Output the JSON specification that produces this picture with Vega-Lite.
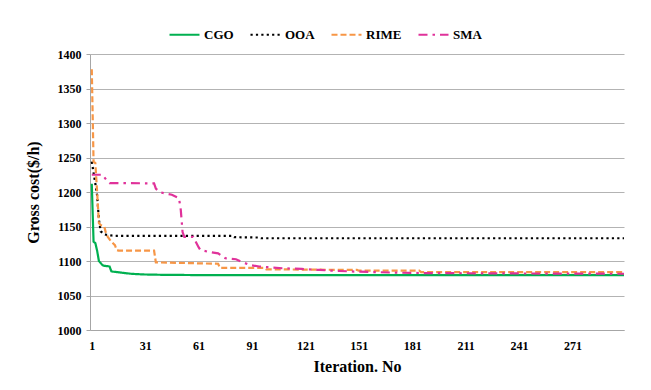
{
  "$schema": "https://vega.github.io/schema/vega-lite/v6.json",
  "width": 534,
  "height": 276,
  "autosize": {"type": "none"},
  "padding": {"left": 90, "top": 54, "right": 27, "bottom": 60},
  "background": "white",
  "config": {
    "view": {"stroke": null},
    "font": "Liberation Serif"
  },
  "data": {
    "values": [
      {"it": 1, "alg": "CGO", "v": 1212}, {"it": 2, "alg": "CGO", "v": 1128}, {"it": 3, "alg": "CGO", "v": 1126},
      {"it": 4, "alg": "CGO", "v": 1115}, {"it": 5, "alg": "CGO", "v": 1100}, {"it": 6, "alg": "CGO", "v": 1097},
      {"it": 7, "alg": "CGO", "v": 1094}, {"it": 8, "alg": "CGO", "v": 1093}, {"it": 10, "alg": "CGO", "v": 1092.5},
      {"it": 11, "alg": "CGO", "v": 1092}, {"it": 12, "alg": "CGO", "v": 1085}, {"it": 13, "alg": "CGO", "v": 1084.5},
      {"it": 15, "alg": "CGO", "v": 1084}, {"it": 18, "alg": "CGO", "v": 1083}, {"it": 23, "alg": "CGO", "v": 1081.5},
      {"it": 30, "alg": "CGO", "v": 1080.5}, {"it": 40, "alg": "CGO", "v": 1080}, {"it": 60, "alg": "CGO", "v": 1079.6},
      {"it": 300, "alg": "CGO", "v": 1079.5},

      {"it": 1, "alg": "OOA", "v": 1244}, {"it": 2, "alg": "OOA", "v": 1228}, {"it": 3, "alg": "OOA", "v": 1212},
      {"it": 4, "alg": "OOA", "v": 1195}, {"it": 5, "alg": "OOA", "v": 1160}, {"it": 6, "alg": "OOA", "v": 1143},
      {"it": 7, "alg": "OOA", "v": 1141}, {"it": 8, "alg": "OOA", "v": 1139}, {"it": 9, "alg": "OOA", "v": 1138},
      {"it": 12, "alg": "OOA", "v": 1137}, {"it": 15, "alg": "OOA", "v": 1136.5}, {"it": 80, "alg": "OOA", "v": 1136.5},
      {"it": 81, "alg": "OOA", "v": 1134.5}, {"it": 95, "alg": "OOA", "v": 1134}, {"it": 96, "alg": "OOA", "v": 1133},
      {"it": 300, "alg": "OOA", "v": 1133},

      {"it": 1, "alg": "RIME", "v": 1378}, {"it": 2, "alg": "RIME", "v": 1244}, {"it": 3, "alg": "RIME", "v": 1242},
      {"it": 4, "alg": "RIME", "v": 1200}, {"it": 5, "alg": "RIME", "v": 1155}, {"it": 6, "alg": "RIME", "v": 1152},
      {"it": 8, "alg": "RIME", "v": 1150}, {"it": 9, "alg": "RIME", "v": 1140}, {"it": 10, "alg": "RIME", "v": 1135},
      {"it": 12, "alg": "RIME", "v": 1128}, {"it": 14, "alg": "RIME", "v": 1123}, {"it": 15, "alg": "RIME", "v": 1116},
      {"it": 16, "alg": "RIME", "v": 1115}, {"it": 36, "alg": "RIME", "v": 1115}, {"it": 37, "alg": "RIME", "v": 1098},
      {"it": 72, "alg": "RIME", "v": 1096}, {"it": 73, "alg": "RIME", "v": 1090}, {"it": 98, "alg": "RIME", "v": 1090},
      {"it": 99, "alg": "RIME", "v": 1088}, {"it": 150, "alg": "RIME", "v": 1087}, {"it": 151, "alg": "RIME", "v": 1086},
      {"it": 185, "alg": "RIME", "v": 1086}, {"it": 186, "alg": "RIME", "v": 1084}, {"it": 300, "alg": "RIME", "v": 1084},

      {"it": 1, "alg": "SMA", "v": 1225}, {"it": 7, "alg": "SMA", "v": 1225}, {"it": 9, "alg": "SMA", "v": 1218},
      {"it": 11, "alg": "SMA", "v": 1213}, {"it": 36, "alg": "SMA", "v": 1212.5}, {"it": 37, "alg": "SMA", "v": 1205},
      {"it": 39, "alg": "SMA", "v": 1200}, {"it": 42, "alg": "SMA", "v": 1198}, {"it": 46, "alg": "SMA", "v": 1196},
      {"it": 50, "alg": "SMA", "v": 1191}, {"it": 51, "alg": "SMA", "v": 1174}, {"it": 52, "alg": "SMA", "v": 1142},
      {"it": 53, "alg": "SMA", "v": 1135}, {"it": 58, "alg": "SMA", "v": 1135}, {"it": 61, "alg": "SMA", "v": 1120},
      {"it": 62, "alg": "SMA", "v": 1116}, {"it": 67, "alg": "SMA", "v": 1113}, {"it": 72, "alg": "SMA", "v": 1111},
      {"it": 76, "alg": "SMA", "v": 1104}, {"it": 82, "alg": "SMA", "v": 1102.5}, {"it": 85, "alg": "SMA", "v": 1099},
      {"it": 90, "alg": "SMA", "v": 1094}, {"it": 95, "alg": "SMA", "v": 1092}, {"it": 100, "alg": "SMA", "v": 1091},
      {"it": 108, "alg": "SMA", "v": 1089.5}, {"it": 119, "alg": "SMA", "v": 1088.5}, {"it": 129, "alg": "SMA", "v": 1087},
      {"it": 140, "alg": "SMA", "v": 1085.5}, {"it": 151, "alg": "SMA", "v": 1084.5}, {"it": 174, "alg": "SMA", "v": 1083},
      {"it": 185, "alg": "SMA", "v": 1082.6}, {"it": 230, "alg": "SMA", "v": 1082}, {"it": 300, "alg": "SMA", "v": 1081.5}
    ]
  },
  "mark": {"type": "line", "strokeWidth": 2.2, "clip": true},
  "encoding": {
    "x": {
      "field": "it", "type": "quantitative",
      "scale": {"domain": [0, 300], "nice": false, "zero": false},
      "axis": {
        "values": [1, 31, 61, 91, 121, 151, 181, 211, 241, 271],
        "format": "d",
        "title": "Iteration. No",
        "titleFont": "Liberation Serif", "titleFontSize": 16, "titleFontWeight": "bold", "titleColor": "black",
        "titlePadding": 7,
        "labelFont": "Liberation Serif", "labelFontSize": 12, "labelFontWeight": "bold", "labelColor": "black",
        "labelPadding": 10,
        "ticks": false, "grid": false, "domainColor": "#a6a6a6", "domainWidth": 1
      }
    },
    "y": {
      "field": "v", "type": "quantitative",
      "scale": {"domain": [1000, 1400], "nice": false, "zero": false},
      "axis": {
        "values": [1000, 1050, 1100, 1150, 1200, 1250, 1300, 1350, 1400],
        "format": "d",
        "title": "Gross cost($/h)",
        "titleFont": "Liberation Serif", "titleFontSize": 16, "titleFontWeight": "bold", "titleColor": "black",
        "titlePadding": 16,
        "labelFont": "Liberation Serif", "labelFontSize": 12, "labelFontWeight": "bold", "labelColor": "black",
        "labelPadding": 5,
        "tickSize": 4, "tickColor": "#a6a6a6",
        "grid": true, "gridColor": "#b3b3b3", "gridWidth": 1,
        "domainColor": "#a6a6a6", "domainWidth": 1
      }
    },
    "color": {
      "field": "alg", "type": "nominal",
      "scale": {"domain": ["CGO", "OOA", "RIME", "SMA"], "range": ["#00B050", "#000000", "#F79646", "#E0329A"]},
      "legend": {
        "orient": "none", "legendX": 78, "legendY": -36, "direction": "horizontal", "columns": 4,
        "title": null,
        "symbolType": "stroke", "symbolSize": 900, "symbolStrokeWidth": 2.2,
        "labelFont": "Liberation Serif", "labelFontSize": 13, "labelFontWeight": "bold", "labelColor": "black",
        "labelOffset": 3, "columnPadding": 12
      }
    },
    "strokeDash": {
      "field": "alg", "type": "nominal",
      "scale": {"domain": ["CGO", "OOA", "RIME", "SMA"], "range": [[1, 0], [2.2, 3.2], [6, 3], [9, 5, 2.5, 5]]},
      "legend": null
    }
  }
}
